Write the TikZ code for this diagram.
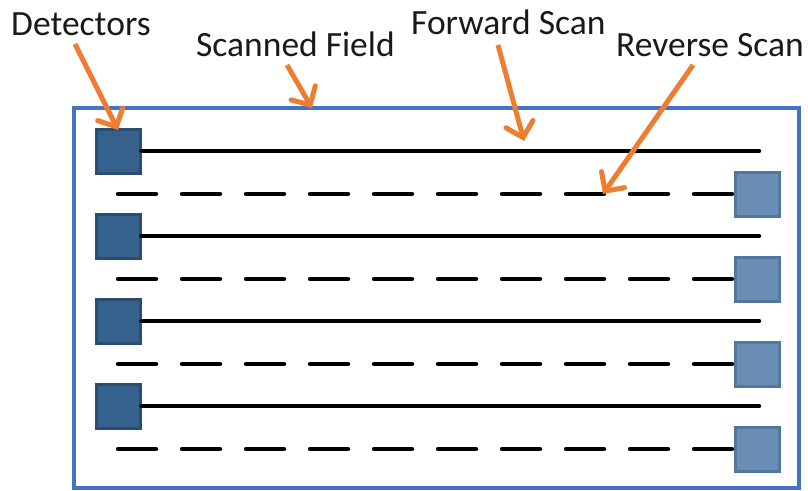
\documentclass[tikz,border=0pt]{standalone}
\usepackage{fontspec}
\setmainfont{Carlito}
\usetikzlibrary{arrows.meta}
\definecolor{frameblue}{HTML}{4472C4}
\definecolor{detfill}{HTML}{35618C}
\definecolor{detline}{HTML}{2A4D70}
\definecolor{revfill}{HTML}{6A8EB5}
\definecolor{revline}{HTML}{52779D}
\definecolor{arrorange}{HTML}{ED7D31}
\tikzset{
  field/.style={draw=frameblue, line width=4pt, minimum width=725pt, minimum height=380pt, inner sep=0pt},
  detector/.style={draw=detline, fill=detfill, line width=3pt, minimum size=44pt, inner sep=0pt},
  revdet/.style={draw=revline, fill=revfill, line width=3pt, minimum size=44pt, inner sep=0pt},
  fwdline/.style={line width=4.5pt, line cap=round},
  revline/.style={line width=4.5pt, line cap=round, dash pattern=on 38pt off 26pt},
  lbl/.style={font=\fontsize{35.5}{38}\selectfont, anchor=base west, inner sep=0pt, text=black!90},
  callout/.style={draw=arrorange, line width=5pt, -{Straight Barb[length=14pt,width=28pt,line cap=round]}}
}
\begin{document}
\begin{tikzpicture}[x=1pt,y=-1pt]
\useasboundingbox (0,0) rectangle (808,490);
\node[field] (fieldbox) at (436.5,298) {};
% detectors and scan lines
\foreach \i/\y in {1/151,2/236,3/321,4/406}{
  \node[detector] (d\i) at (118,\y) {};
  \coordinate (fe\i) at (759,\y);
  \draw[fwdline] (d\i.east) -- (fe\i);
}
\foreach \i/\y in {1/194,2/279,3/364,4/449}{
  \node[revdet] (r\i) at (757.5,\y) {};
  \coordinate (rs\i) at (118,\y);
  \draw[revline] (rs\i) -- (r\i.west);
}
% labels
\node[lbl] (ldet) at (11,35) {Detectors};
\node[lbl] (lfield) at (196,56) {Scanned Field};
\node[lbl] (lfwd) at (411,34) {Forward Scan};
\node[lbl] (lrev) at (616,56) {Reverse Scan};
% arrow tips
\coordinate (tdet) at (118,130);
\coordinate (tfield) at (312,108);
\coordinate (tfwd) at (524,141);
\coordinate (trev) at (603,194);
\coordinate (sdet) at (75,44);
\coordinate (sfield) at (287,65);
\coordinate (sfwd) at (498,45);
\coordinate (srev) at (693,65);
\draw[callout] (sdet) -- (tdet);
\draw[callout] (sfield) -- (tfield);
\draw[callout] (sfwd) -- (tfwd);
\draw[callout] (srev) -- (trev);
\end{tikzpicture}
\end{document}
